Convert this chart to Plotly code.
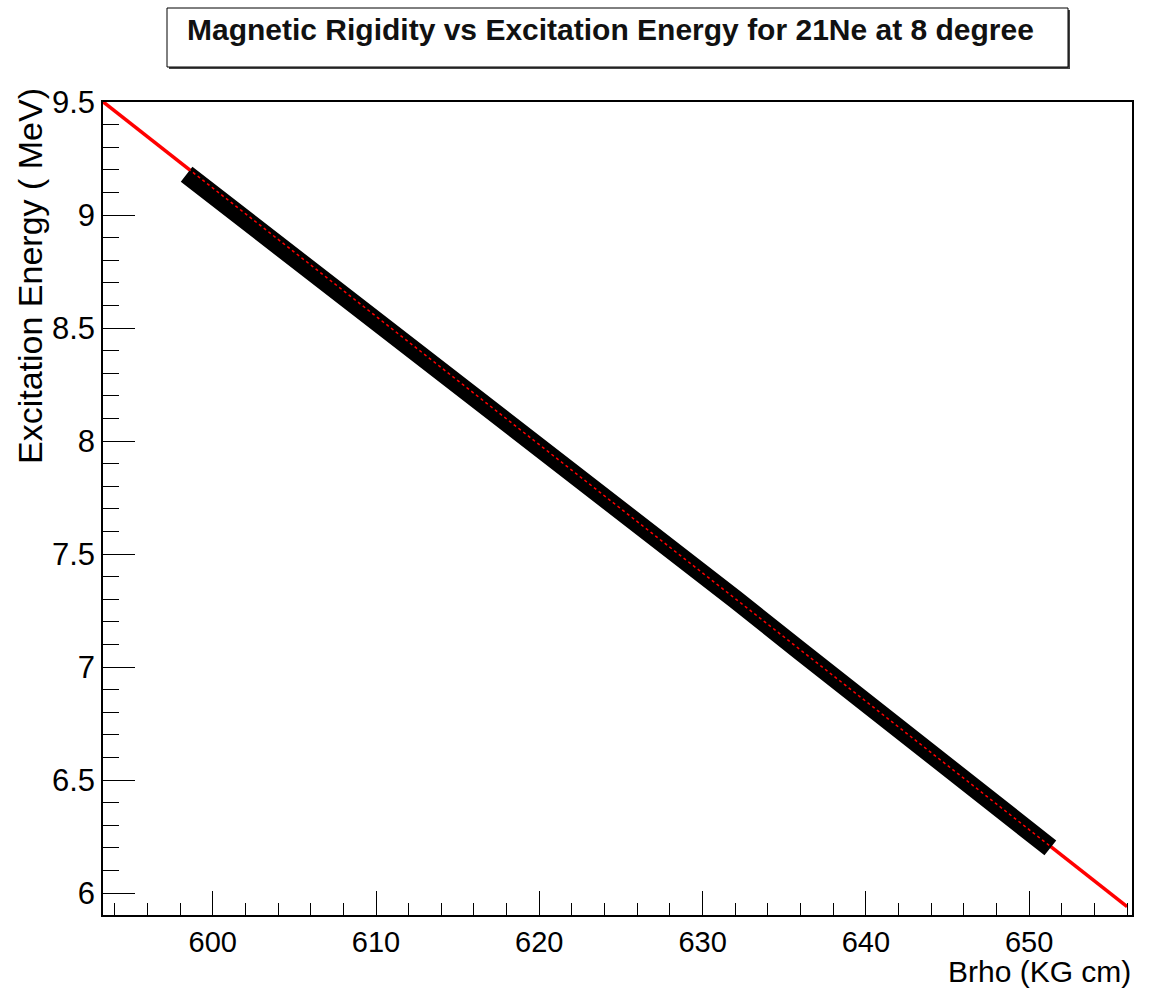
import plotly.graph_objects as go

# ---- data ----
band_brho = [598.4, 601.0, 605.0, 609.0, 612.0, 616.0, 620.0, 624.0, 628.0, 632.0, 636.0, 640.0, 644.0, 648.0, 651.3]
band_ex = [9.180, 9.035, 8.815, 8.590, 8.425, 8.205, 7.990, 7.760, 7.530, 7.300, 7.070, 6.840, 6.610, 6.390, 6.200]

fit_brho = [593.3, 656.0]
fit_ex = [9.50, 5.94]

title_text = "Magnetic Rigidity vs Excitation Energy for 21Ne at 8 degree"
x_title = "Brho (KG cm)"
y_title = "Excitation Energy ( MeV)"

# ---- layout geometry (pixels) ----
W, H = 1151, 991
L, R, T, B = 103, 1132, 102, 915


def px(xp):
    return (xp - L) / (R - L)


def py(yp):
    return (B - yp) / (B - T)


fig = go.Figure()

fig.add_trace(go.Scatter(x=fit_brho, y=fit_ex, mode="lines",
                         line=dict(color="#ff0000", width=3.5), hoverinfo="skip",
                         showlegend=False))
fig.add_trace(go.Scatter(x=band_brho, y=band_ex, mode="lines",
                         line=dict(color="#000000", width=19), showlegend=False))
fig.add_trace(go.Scatter(x=fit_brho, y=fit_ex, mode="lines",
                         line=dict(color="#ff0000", width=1.5, dash="dot"),
                         hoverinfo="skip", showlegend=False))

font_family = "Liberation Sans, Arial, Helvetica, sans-serif"

fig.update_layout(
    width=W, height=H,
    margin=dict(l=L, r=W - R, t=T, b=H - B, pad=0),
    paper_bgcolor="white", plot_bgcolor="white",
    font=dict(family=font_family, color="black"),
    xaxis=dict(range=[593.28, 656.3], showgrid=False, zeroline=False,
               showline=True, linecolor="black", linewidth=1.5, mirror=True,
               ticks="inside", ticklen=24, tickcolor="black", tickwidth=1.2,
               tick0=600, dtick=10, tickfont=dict(size=29),
               minor=dict(ticks="inside", ticklen=12, dtick=2, tickcolor="black", tickwidth=1.2, showgrid=False)),
    yaxis=dict(range=[5.903, 9.5], showgrid=False, zeroline=False,
               showline=True, linecolor="black", linewidth=1.5, mirror=True,
               ticks="inside", ticklen=32, tickcolor="black", tickwidth=1.2,
               tick0=6, dtick=0.5, tickfont=dict(size=31),
               minor=dict(ticks="inside", ticklen=16, dtick=0.1, tickcolor="black", tickwidth=1.2, showgrid=False)),
)

# title box with shadow
fig.add_shape(type="rect", xref="paper", yref="paper",
              x0=px(169), x1=px(1070), y0=py(69), y1=py(10),
              line=dict(width=0), fillcolor="#444444", layer="below")
fig.add_shape(type="rect", xref="paper", yref="paper",
              x0=px(167), x1=px(1068), y0=py(67), y1=py(8),
              line=dict(color="black", width=1), fillcolor="white", layer="below")

fig.add_annotation(text=title_text, xref="paper", yref="paper",
                   x=px(610), y=py(29), showarrow=False,
                   xanchor="center", yanchor="middle",
                   font=dict(size=30, family=font_family, color="#111111", weight="bold"))

fig.add_annotation(text=x_title, xref="paper", yref="paper",
                   x=px(1132), y=py(989), showarrow=False,
                   xanchor="right", yanchor="bottom", borderpad=0,
                   font=dict(size=30, family=font_family))

fig.add_annotation(text=y_title, xref="paper", yref="paper",
                   x=px(30), y=py(86), showarrow=False, textangle=-90,
                   xanchor="center", yanchor="top",
                   font=dict(size=34, family=font_family))

fig.write_html("out.html")
